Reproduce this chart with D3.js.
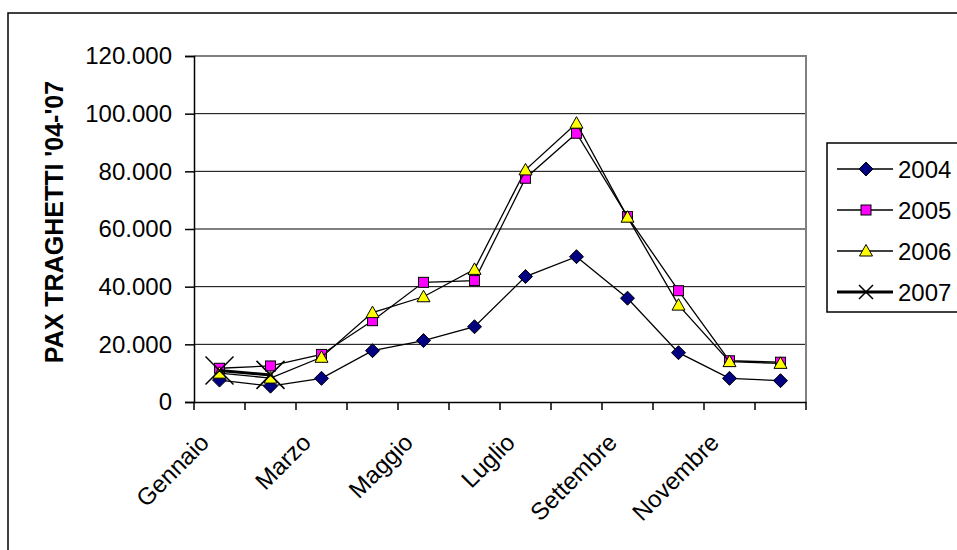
<!DOCTYPE html>
<html>
<head>
<meta charset="utf-8">
<script src="https://cdn.jsdelivr.net/npm/d3@7"></script>
<style>
  body { margin: 0; background: #fff; }
  text { font-family: "Liberation Sans", Arial, sans-serif; }
</style>
</head>
<body>
<div id="chart-area"></div>
<script>
// Data
var months = ["Gennaio", "Febbraio", "Marzo", "Aprile", "Maggio", "Giugno",
              "Luglio", "Agosto", "Settembre", "Ottobre", "Novembre", "Dicembre"];
var pax2004 = [7600, 5500, 8200, 17800, 21300, 26100, 43500, 50400, 36000, 17100, 8200, 7400];
var pax2005 = [11700, 12500, 16500, 28200, 41500, 42100, 77600, 93200, 64300, 38600, 14300, 13800];
var pax2006 = [10000, 8300, 15500, 31000, 36500, 46000, 80500, 96700, 64100, 33600, 14000, 13400];
var pax2007 = [10900, 9400];
var years = ["2004", "2005", "2006", "2007"];
var yTicks = [0, 20000, 40000, 60000, 80000, 100000, 120000];

var series = [
    { name: years[0], values: pax2004, marker: "diamond", fill: "#000080", width: 1.3 },
    { name: years[1], values: pax2005, marker: "square", fill: "#ff00ff", width: 1.3 },
    { name: years[2], values: pax2006, marker: "triangle", fill: "#ffff00", width: 1.3 },
    { name: years[3], values: pax2007, marker: "cross", fill: "none", width: 3 }
];

var margin = { left: 194, top: 56 },
    width = 612,
    height = 346;

var svg = d3.select("#chart-area")
    .append("svg")
    .attr("width", 957)
    .attr("height", 550);

// outer chart frame
svg.append("rect")
    .attr("x", 8).attr("y", 13)
    .attr("width", 970).attr("height", 560)
    .attr("fill", "none")
    .attr("stroke", "#000")
    .attr("stroke-width", 1.5);

var g = svg.append("g")
    .attr("transform", "translate(" + margin.left + "," + margin.top + ")");

// Scales
var x = d3.scaleBand().domain(months).range([0, width]).padding(0);
var y = d3.scaleLinear().domain([0, 120000]).range([height, 0]);

var it = d3.formatLocale({ decimal: ",", thousands: ".", grouping: [3], currency: ["", " €"] });
var fmt = it.format(",");

// gridlines
g.selectAll(".grid")
    .data(yTicks.slice(1, -1))
    .enter().append("line")
    .attr("class", "grid")
    .attr("x1", 0).attr("x2", width)
    .attr("y1", function(d){ return y(d); })
    .attr("y2", function(d){ return y(d); })
    .attr("stroke", "#000")
    .attr("stroke-width", 1);

// top and right border of plot area (gray)
g.append("path")
    .attr("d", "M0," + y(120000) + "H" + width + "V" + height)
    .attr("fill", "none")
    .attr("stroke", "#808080")
    .attr("stroke-width", 2);

// Y-axis
var yAxis = g.append("g")
    .call(d3.axisLeft(y).tickValues(yTicks).tickSize(9).tickPadding(13).tickFormat(fmt));
yAxis.select(".domain").attr("stroke-width", 1.5);
yAxis.selectAll(".tick line").attr("stroke-width", 1.5);
yAxis.selectAll("text").attr("font-size", "24px").attr("fill", "#000");

// X-axis: ticks on band boundaries, labels on every second month
var xAxis = g.append("g")
    .attr("transform", "translate(0," + height + ")")
    .call(d3.axisBottom(x).tickSize(0).tickFormat(function(d, i){ return i % 2 === 0 ? d : ""; }));
xAxis.select(".domain").attr("stroke-width", 1.5);
xAxis.selectAll("text")
    .attr("font-size", "24px")
    .attr("fill", "#000")
    .attr("text-anchor", "end")
    .attr("y", 0)
    .attr("dy", 0)
    .attr("transform", "translate(-9,42) rotate(-45)");

xAxis.selectAll(".bound")
    .data(d3.range(months.length + 1))
    .enter().append("line")
    .attr("class", "bound")
    .attr("x1", function(i){ return i * x.step(); })
    .attr("x2", function(i){ return i * x.step(); })
    .attr("y1", 0).attr("y2", 8)
    .attr("stroke", "#000")
    .attr("stroke-width", 1.5);

// Y label
svg.append("text")
    .attr("transform", "translate(63,222) rotate(-90)")
    .attr("text-anchor", "middle")
    .attr("font-size", "25px")
    .attr("font-weight", "bold")
    .text("PAX TRAGHETTI '04-'07");

// Marker drawing
function drawMarker(sel, s, big) {
    if (s.marker === "diamond") {
        sel.append("path").attr("d", "M0,-7L7,0L0,7L-7,0Z")
            .attr("fill", s.fill).attr("stroke", "#000").attr("stroke-width", 1);
    } else if (s.marker === "square") {
        sel.append("rect").attr("x", -5).attr("y", -5).attr("width", 10).attr("height", 10)
            .attr("fill", s.fill).attr("stroke", "#000").attr("stroke-width", 1);
    } else if (s.marker === "triangle") {
        sel.append("path").attr("d", "M0,-6.5L6.5,5L-6.5,5Z")
            .attr("fill", s.fill).attr("stroke", "#000").attr("stroke-width", 1);
    } else {
        var r = big ? 14 : 7;
        sel.append("path").attr("d", "M" + (-r) + "," + (-r) + "L" + r + "," + r + "M" + r + "," + (-r) + "L" + (-r) + "," + r)
            .attr("fill", "none").attr("stroke", "#000").attr("stroke-width", 1.5);
    }
}

var line = d3.line()
    .x(function(d, i){ return x(months[i]) + x.bandwidth() / 2; })
    .y(function(d){ return y(d); });

series.forEach(function(s) {
    g.append("path")
        .attr("d", line(s.values))
        .attr("fill", "none")
        .attr("stroke", "#000")
        .attr("stroke-width", s.width);
    s.values.forEach(function(v, i) {
        var m = g.append("g")
            .attr("transform", "translate(" + (x(months[i]) + x.bandwidth() / 2) + "," + y(v) + ")");
        drawMarker(m, s, true);
    });
});

// Legend
var legend = svg.append("g").attr("transform", "translate(827,143)");
legend.append("rect")
    .attr("width", 140).attr("height", 169)
    .attr("fill", "#fff").attr("stroke", "#000").attr("stroke-width", 1.5);

var legendY = d3.scalePoint().domain(years).range([26, 149]);
series.forEach(function(s) {
    var row = legend.append("g").attr("transform", "translate(0," + legendY(s.name) + ")");
    row.append("line").attr("x1", 10).attr("x2", 66)
        .attr("stroke", "#000").attr("stroke-width", s.width);
    var m = row.append("g").attr("transform", "translate(39,0)");
    drawMarker(m, s, false);
    row.append("text").attr("x", 71).attr("y", 0).attr("dy", "0.36em")
        .attr("font-size", "24px").text(s.name);
});
</script>
</body>
</html>
